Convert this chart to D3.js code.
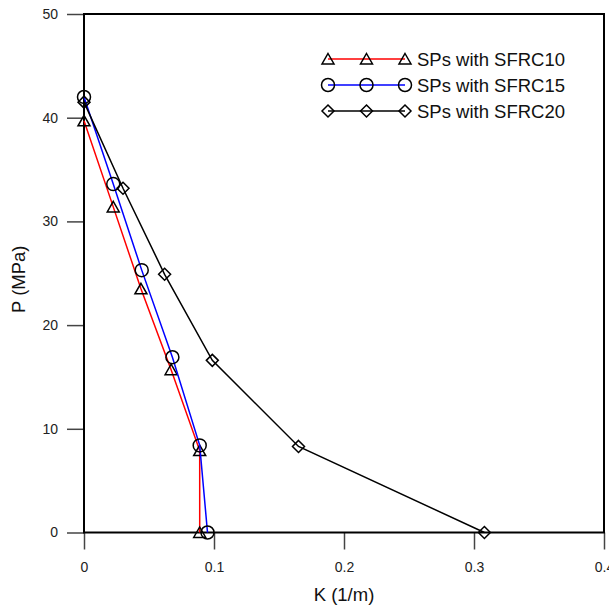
<!DOCTYPE html>
<html>
<head>
<meta charset="utf-8">
<script src="https://cdn.jsdelivr.net/npm/d3@7"></script>
<style>
  body { margin: 0; background: #fff; }
  svg { display: block; font-family: Arial, "Liberation Sans", sans-serif; }
</style>
</head>
<body>
<div id="chart"></div>
<script>
// K (1/m) vs P (MPa) for each specimen group
const SERIES_NAMES = ["SPs with SFRC10", "SPs with SFRC15", "SPs with SFRC20"];
const SERIES_COLORS = ["#ff0000", "#0000ff", "#000000"];
const SERIES_SHAPES = ["triangle", "circle", "diamond"];

const K10 = [0, 0.0225, 0.0438, 0.067, 0.089, 0.089];
const P10 = [39.7, 31.4, 23.5, 15.7, 7.9, 0];

const K15 = [0, 0.0225, 0.0444, 0.068, 0.089, 0.095];
const P15 = [42.0, 33.6, 25.3, 16.9, 8.4, 0];

const K20 = [0, 0.030, 0.062, 0.0987, 0.165, 0.308];
const P20 = [41.5, 33.2, 24.9, 16.6, 8.3, 0];

const X_TICKS = [0, 0.1, 0.2, 0.3, 0.4];
const Y_TICKS = [0, 10, 20, 30, 40, 50];

const W = 609, H = 608;
const m = { left: 84, right: 5, top: 14, bottom: 75.5 };

const x = d3.scaleLinear().domain([0, 0.4]).range([m.left, W - m.right]);
const y = d3.scaleLinear().domain([0, 50]).range([H - m.bottom, m.top]);

const svg = d3.select("#chart").append("svg")
    .attr("width", W).attr("height", H);

// marker path for each shape, centred on 0,0
function markerPath(shape){
  if (shape === "triangle") return "M0,-5.5L6,5L-6,5Z";
  if (shape === "diamond") return "M0,-6L6,0L0,6L-6,0Z";
  return d3.arc()({ innerRadius: 0, outerRadius: 6.5, startAngle: 0, endAngle: 2 * Math.PI });
}

// ---- axes (ticks outside, grey) ----
const tickColor = "#444";
const xAxis = svg.append("g")
    .attr("transform", `translate(0,${H - m.bottom})`)
    .call(d3.axisBottom(x).tickValues(X_TICKS).tickSize(17).tickSizeOuter(0).tickPadding(13)
      .tickFormat(d => d === 0 ? "0" : d3.format(".1f")(d)));
const yAxis = svg.append("g")
    .attr("transform", `translate(${m.left},0)`)
    .call(d3.axisLeft(y).tickValues(Y_TICKS).tickSize(17).tickSizeOuter(0).tickPadding(9));
[xAxis, yAxis].forEach(g => {
  g.select(".domain").remove();
  g.selectAll(".tick line").attr("stroke", tickColor).attr("stroke-width", 1.5);
  g.selectAll(".tick text").attr("fill", "#222").style("font-size", "14px")
    .style("font-family", "Arial, 'Liberation Sans', sans-serif");
});

// frame
svg.append("rect")
    .attr("x", x(0)).attr("y", y(50))
    .attr("width", x(0.4) - x(0)).attr("height", y(0) - y(50))
    .attr("fill", "none").attr("stroke", "#000").attr("stroke-width", 2);

// axis titles
svg.append("text").attr("x", (x(0) + x(0.4)) / 2).attr("y", 601)
    .attr("text-anchor", "middle").style("font-size", "18.5px").attr("fill", "#111")
    .text("K (1/m)");
svg.append("text").attr("transform", `translate(25,${(y(0) + y(50)) / 2 + 6}) rotate(-90)`)
    .attr("text-anchor", "middle").style("font-size", "18.5px").attr("fill", "#111")
    .text("P (MPa)");

// ---- series ----
const seriesK = [K10, K15, K20];
const seriesP = [P10, P15, P20];
const line = d3.line().x(d => x(d[0])).y(d => y(d[1]));

seriesK.forEach((ks, i) => {
  const pts = ks.map((k, j) => [k, seriesP[i][j]]);
  svg.append("path").datum(pts)
      .attr("d", line).attr("fill", "none")
      .attr("stroke", SERIES_COLORS[i]).attr("stroke-width", 1.5);
  svg.append("g").selectAll("path").data(pts).join("path")
      .attr("transform", d => `translate(${x(d[0])},${y(d[1])})`)
      .attr("d", markerPath(SERIES_SHAPES[i]))
      .attr("fill", "none").attr("stroke", "#000").attr("stroke-width", 1.5);
});

// ---- legend ----
const lg = svg.append("g").attr("transform", "translate(328,59)");
SERIES_NAMES.forEach((name, i) => {
  const row = lg.append("g").attr("transform", `translate(0,${i * 26})`);
  row.append("line").attr("x1", 0).attr("x2", 77)
      .attr("stroke", SERIES_COLORS[i]).attr("stroke-width", 1.5);
  [0, 38.5, 77].forEach(px => {
    row.append("path").attr("transform", `translate(${px},0)`)
        .attr("d", markerPath(SERIES_SHAPES[i]))
        .attr("fill", "none").attr("stroke", "#000").attr("stroke-width", 1.5);
  });
  row.append("text").attr("x", 89).attr("y", 6.5)
      .style("font-size", "18.5px").attr("fill", "#111").text(name);
});
</script>
</body>
</html>
